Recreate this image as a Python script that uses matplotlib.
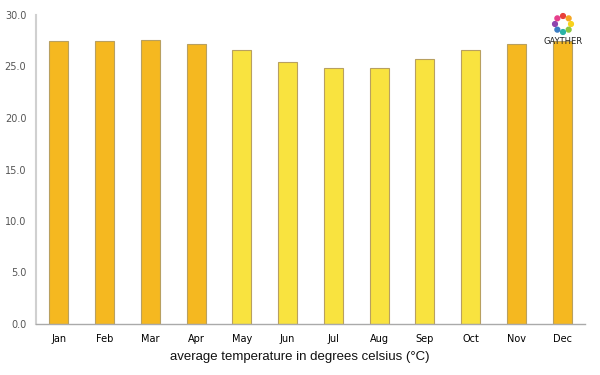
import matplotlib
matplotlib.use("Agg")
import matplotlib.pyplot as plt
import numpy as np

months = ["Jan", "Feb", "Mar", "Apr", "May", "Jun", "Jul", "Aug", "Sep", "Oct", "Nov", "Dec"]
temps = [27.5, 27.5, 27.6, 27.2, 26.6, 25.4, 24.9, 24.9, 25.7, 26.6, 27.2, 27.5]
warm = [True, True, True, True, False, False, False, False, False, False, True, True]
yticks = [0, 5, 10, 15, 20, 25, 30]

fig = plt.figure(figsize=(6, 3.75), dpi=100)
ax = fig.add_axes([0.06, 0.136, 0.915, 0.824])
x = np.arange(len(months))
colors = ["#F5B820" if w else "#F9E33F" for w in warm]
ax.bar(x, temps, width=0.42, color=colors, edgecolor="#B8A060", linewidth=0.8, zorder=2)
ax.set_xlim(-0.5, 11.5)
ax.set_ylim(0, 30)
ax.set_yticks(yticks)
ax.set_yticklabels([f"{v:.1f}" for v in yticks], fontsize=7, color="#555555", family="DejaVu Sans")
ax.set_xticks(x)
ax.set_xticklabels(months, fontsize=7, color="#000000", family="DejaVu Sans")
ax.tick_params(axis="x", length=0, pad=7)
ax.tick_params(axis="y", length=0, pad=7)
for s in ["top", "right"]:
    ax.spines[s].set_visible(False)
ax.spines["left"].set_color("#D0D0D0")
ax.spines["left"].set_linewidth(1.5)
ax.spines["bottom"].set_color("#AAAAAA")
ax.spines["bottom"].set_linewidth(1.0)

fig.text(0.5, 0.048, "average temperature in degrees celsius (°C)", ha="center", va="center",
         fontsize=9.5, family="Liberation Sans", color="#111111")

# logo
logo_cols = ["#E8403A", "#F5A623", "#F8D21C", "#8CC63F", "#2AB3A6", "#3B7DC4", "#8E44AD", "#E63E8C"]
for i, c in enumerate(logo_cols):
    a = np.pi / 2 - i * 2 * np.pi / len(logo_cols)
    fig.patches.append(plt.Circle((563 + 8 * np.cos(a), (375 - 24) + 8 * np.sin(a)), 2.4,
                                  transform=None, color=c, figure=fig))
fig.text(563 / 600, (375 - 41) / 375, "GAYTHER", ha="center", va="center", fontsize=6,
         family="DejaVu Sans", color="#222222")

fig.savefig("out.png", dpi=100)
